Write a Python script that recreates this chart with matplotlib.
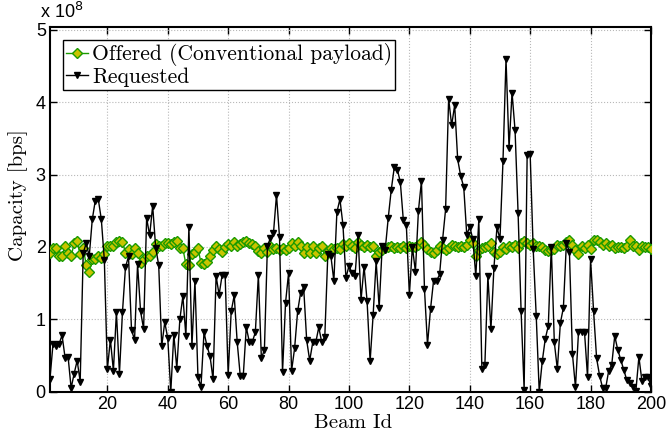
import numpy as np
import matplotlib
matplotlib.use('Agg')
import matplotlib.pyplot as plt

# capacities per beam, in units of 1e8 bps
beam_id = np.arange(1, 201)

offered = [
    1.91, 1.99, 1.98, 1.88, 1.88, 2.02, 1.92, 1.87, 2.05, 2.08,
    1.90, 1.99, 1.75, 1.65, 1.83, 1.83, 1.88, 1.85, 1.90, 2.02,
    2.02, 2.02, 2.07, 2.08, 2.07, 1.92, 1.97, 1.90, 1.99, 1.92,
    1.78, 1.83, 1.88, 1.88, 1.93, 2.04, 2.01, 2.02, 2.05, 2.06,
    2.04, 2.07, 2.08, 1.99, 1.98, 1.76, 1.75, 1.90, 1.93, 1.98,
    1.78, 1.77, 1.79, 1.87, 1.96, 2.01, 1.97, 1.93, 2.00, 2.04,
    2.02, 2.07, 2.01, 2.04, 2.07, 2.08, 2.05, 2.04, 2.01, 1.94,
    1.92, 1.99, 1.93, 2.01, 1.97, 1.99, 1.96, 1.99, 1.96, 1.99,
    2.05, 2.02, 2.07, 2.01, 1.92, 2.00, 1.92, 2.01, 1.92, 1.99,
    2.02, 1.88, 1.94, 1.99, 1.97, 1.99, 1.97, 2.04, 2.01, 2.05,
    2.02, 1.99, 2.07, 2.03, 2.00, 2.03, 2.00, 2.02, 1.88, 1.93,
    1.96, 1.99, 2.00, 2.01, 1.99, 2.00, 1.99, 2.01, 1.99, 2.02,
    2.00, 2.00, 2.03, 2.07, 2.03, 1.97, 1.93, 1.92, 1.96, 2.01,
    1.99, 1.96, 1.99, 2.03, 2.02, 2.00, 2.01, 2.00, 2.03, 2.09,
    2.06, 1.88, 1.96, 1.99, 2.00, 2.02, 2.06, 1.93, 1.90, 1.93,
    2.00, 1.97, 2.02, 2.00, 2.03, 1.99, 2.06, 2.08, 2.05, 2.03,
    2.06, 2.02, 2.02, 2.00, 1.96, 1.94, 1.96, 1.97, 2.03, 2.02,
    2.03, 2.07, 2.10, 2.03, 1.96, 1.90, 2.02, 1.99, 2.03, 1.97,
    2.09, 2.10, 2.07, 2.03, 2.06, 2.01, 2.03, 1.99, 2.00, 2.00,
    1.99, 2.01, 2.09, 2.02, 2.01, 1.96, 2.02, 2.00, 2.00, 1.97,
]

requested = [
    0.18, 0.66, 0.63, 0.66, 0.78, 0.47, 0.48, 0.05, 0.25, 0.43,
    0.14, 1.92, 2.05, 1.87, 2.38, 2.64, 2.66, 2.38, 1.82, 0.31,
    0.72, 0.29, 1.10, 0.25, 1.10, 1.72, 1.87, 0.85, 0.72, 1.76,
    1.11, 0.87, 2.40, 2.16, 2.57, 1.99, 1.75, 0.63, 0.96, 0.74,
    0.00, 0.79, 0.32, 1.00, 1.32, 0.77, 2.28, 0.63, 1.53, 0.20,
    0.07, 0.82, 0.63, 0.49, 0.17, 1.60, 1.34, 1.61, 1.61, 0.23,
    1.11, 1.33, 0.68, 0.22, 0.22, 0.89, 0.69, 0.69, 0.82, 1.61,
    0.46, 0.58, 2.02, 2.12, 2.19, 2.72, 2.14, 0.27, 1.23, 1.64,
    0.29, 0.60, 1.11, 1.37, 1.44, 0.71, 0.43, 0.68, 0.68, 0.89,
    0.68, 0.76, 1.90, 1.88, 1.53, 2.48, 2.66, 2.31, 1.57, 1.74,
    1.64, 1.60, 2.16, 1.27, 1.73, 1.25, 0.42, 1.06, 1.80, 1.16,
    2.01, 1.96, 2.40, 2.79, 3.10, 3.07, 2.90, 2.37, 2.30, 1.34,
    2.00, 1.66, 2.50, 2.91, 1.42, 0.65, 1.14, 1.53, 1.53, 1.62,
    2.10, 2.52, 4.05, 3.68, 3.96, 3.21, 2.98, 2.83, 2.17, 2.28,
    2.11, 1.60, 2.38, 0.32, 0.37, 1.60, 0.86, 1.71, 2.27, 2.11,
    3.19, 4.60, 3.37, 4.13, 3.61, 2.47, 1.11, 0.03, 3.27, 3.28,
    1.97, 1.05, 0.00, 0.42, 0.73, 0.91, 2.00, 0.68, 0.31, 0.95,
    1.16, 2.06, 1.93, 0.52, 0.06, 0.82, 0.82, 0.82, 0.20, 1.83,
    1.11, 0.46, 0.22, 0.05, 0.05, 0.29, 0.37, 0.77, 0.58, 0.44,
    0.30, 0.16, 0.12, 0.07, 0.01, 0.48, 0.15, 0.21, 0.20, 0.08,
]

yticks = [0, 1, 2, 3, 4, 5]
xticks = [20, 40, 60, 80, 100, 120, 140, 160, 180, 200]

serif = 'cmr10'
sans = 'Liberation Sans'

fig = plt.figure(figsize=(6.7, 4.38), dpi=100)
ax = fig.add_axes([0.0746, 0.1057, 0.8970, 0.8327])

ax.plot(beam_id, offered, '-D', color='#1a9a00', lw=1.0, ms=5.0,
        mfc='#c8c400', mec='#1a9a00', mew=1.0,
        label='Offered (Conventional payload)', zorder=3)
ax.plot(beam_id, requested, '-v', color='black', lw=1.0, ms=4.5,
        mfc='black', mec='black', label='Requested', zorder=4)

ax.set_xlim(1, 200)
ax.set_ylim(0, 5.04)
ax.set_xticks(xticks)
ax.set_yticks(yticks)
ax.set_xticklabels([str(t) for t in xticks], fontfamily=sans, fontsize=13)
ax.set_yticklabels([str(t) for t in yticks], fontfamily=sans, fontsize=13)
ax.tick_params(direction='in', top=True, right=True, length=5, width=1, pad=3)
ax.grid(True, linestyle=':', color='#b8b8b8', lw=0.8)
ax.set_axisbelow(True)
for s in ax.spines.values():
    s.set_linewidth(1.5)

ax.set_xlabel('Beam Id', fontfamily=serif, fontsize=15)
ax.xaxis.set_label_coords(0.505, -0.062)
ax.set_ylabel('Capacity [bps]', fontfamily=serif, fontsize=15)
ax.yaxis.set_label_coords(-0.036, 0.54)
fig.text(0.060, 0.958, r'x 10$^{8}$', fontfamily=sans, fontsize=13)

leg = ax.legend(loc='upper left', prop={'family': serif, 'size': 15.5},
                handlelength=1.0, handletextpad=0.2, borderpad=0.15,
                labelspacing=0.05, borderaxespad=0.6, fancybox=False,
                framealpha=1, edgecolor='black')
leg.get_frame().set_linewidth(1.0)

fig.savefig('out.png', dpi=100)
